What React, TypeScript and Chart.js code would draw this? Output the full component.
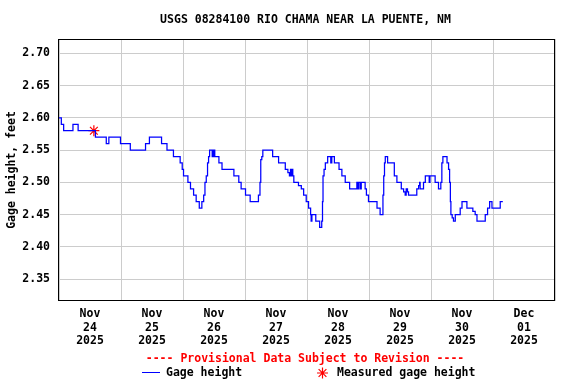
import React, { useEffect, useRef } from 'react';
import { Chart, registerables } from 'chart.js';

Chart.register(...registerables);

const TITLE = 'USGS 08284100 RIO CHAMA NEAR LA PUENTE, NM';
const NOTE = '---- Provisional Data Subject to Revision ----';
const Y_TITLE = 'Gage height, feet';
const LEGEND_LINE = 'Gage height';
const LEGEND_STAR = 'Measured gage height';

// x labels, one per day (placed at noon)
const DAY_LABELS = [
  ['Nov', '24', '2025'],
  ['Nov', '25', '2025'],
  ['Nov', '26', '2025'],
  ['Nov', '27', '2025'],
  ['Nov', '28', '2025'],
  ['Nov', '29', '2025'],
  ['Nov', '30', '2025'],
  ['Dec', '01', '2025'],
];
const Y_TICKS = [2.35, 2.4, 2.45, 2.5, 2.55, 2.6, 2.65, 2.7];
const Y_MIN = 2.316;
const Y_MAX = 2.7222;
const X_MAX_HOURS = 192;

// gage height change points: hours since 2025-11-24 00:00, value in feet
const HOURS = [
  0, 0.9, 1.8, 5.4, 7.4, 14.1, 18.3, 19.3, 23.8, 27.6, 33.5, 35.0, 39.7, 41.8, 44.3, 46.9,
  47.7, 48.2, 49.9, 50.9, 52.1, 53.1, 54.3, 55.3, 56.0, 56.5, 57.0, 57.5, 57.9, 58.3, 59.3,
  59.6, 59.8, 60.1, 60.3, 61.9, 63.1, 67.7, 69.6, 70.5, 72.2, 74.0, 77.2, 77.8, 78.1, 78.5,
  78.9, 82.7, 85.0, 87.6, 88.6, 89.2, 89.6, 89.9, 90.3, 90.5, 90.9, 92.7, 93.8, 94.7, 95.7,
  96.6, 97.4, 97.6, 97.9, 99.4, 100.9, 101.7, 102.0, 102.2, 102.6, 103.1, 104.0, 105.2,
  105.6, 106.6, 108.4, 109.5, 110.8, 112.5, 115.3, 115.7, 116.0, 116.6, 117.0, 118.5, 119.0,
  119.8, 123.1, 124.3, 125.4, 125.7, 126.0, 126.3, 127.2, 129.8, 130.8, 131.5, 132.5, 133.4,
  134.0, 134.4, 134.9, 135.3, 138.5, 139.2, 139.6, 139.8, 141.1, 141.8, 143.3, 143.6, 145.6,
  146.9, 147.8, 148.2, 148.6, 150.2, 150.8, 151.2, 151.5, 151.7, 152.2, 152.7, 153.4, 155.3,
  156.0, 157.9, 160.2, 161.1, 161.8, 165.0, 165.9, 166.7, 167.6, 170.8, 171.8,
];
const GAGE = [
  2.60, 2.59, 2.58, 2.59, 2.58, 2.57, 2.56, 2.57, 2.56, 2.55, 2.56, 2.57, 2.56, 2.55, 2.54, 2.53,
  2.52, 2.51, 2.50, 2.49, 2.48, 2.47, 2.46, 2.47, 2.48, 2.50, 2.51, 2.53, 2.54, 2.55, 2.54,
  2.55, 2.54, 2.55, 2.54, 2.53, 2.52, 2.51, 2.50, 2.49, 2.48, 2.47, 2.48, 2.50, 2.535, 2.54,
  2.55, 2.54, 2.53, 2.52, 2.515, 2.51, 2.52, 2.51, 2.52, 2.51, 2.50, 2.495, 2.49, 2.48, 2.47,
  2.46, 2.45, 2.44, 2.45, 2.44, 2.43, 2.44, 2.47, 2.51, 2.52, 2.53, 2.54, 2.53,
  2.54, 2.53, 2.52, 2.51, 2.50, 2.49, 2.50, 2.49, 2.50, 2.49, 2.50, 2.49, 2.48,
  2.47, 2.46, 2.45, 2.48, 2.51, 2.53, 2.54, 2.53, 2.51, 2.50, 2.50, 2.49, 2.485,
  2.48, 2.49, 2.485, 2.48, 2.49, 2.495, 2.50, 2.49, 2.50, 2.51, 2.50, 2.51, 2.50,
  2.49, 2.50, 2.53, 2.54, 2.53, 2.52, 2.50, 2.47, 2.45, 2.445, 2.44, 2.45, 2.46,
  2.47, 2.46, 2.455, 2.45, 2.44, 2.45, 2.46, 2.47, 2.46, 2.47, 2.47,
];
const MEASURED_HOURS = [13.5];
const MEASURED = [2.58];

const FONT_FAMILY = "'DejaVu Sans Mono', 'Liberation Mono', monospace";
const FONT = { family: FONT_FAMILY, size: 11.5, weight: 'bold' as const, lineHeight: 1.17 };

const overlayPlugin = {
  id: 'usgsOverlay',
  afterDatasetsDraw(chart: any) {
    const { ctx, chartArea } = chart;
    ctx.save();
    ctx.strokeStyle = '#000000';
    ctx.lineWidth = 1;
    ctx.strokeRect(
      chartArea.left - 0.5,
      chartArea.top + 0.5,
      chartArea.right - chartArea.left,
      chartArea.bottom - chartArea.top - 1
    );
    ctx.restore();
  },
  afterDraw(chart: any) {
    const { ctx } = chart;
    ctx.save();
    ctx.font = `bold 11.5px ${FONT_FAMILY}`;
    ctx.textBaseline = 'middle';
    ctx.textAlign = 'center';
    ctx.fillStyle = '#000000';
    ctx.fillText(TITLE, 305.5, 20);
    ctx.fillStyle = '#ff0000';
    ctx.fillText(NOTE, 305, 359);
    // legend
    ctx.textAlign = 'left';
    ctx.strokeStyle = '#0000ff';
    ctx.lineWidth = 1;
    ctx.beginPath();
    ctx.moveTo(142, 372.5);
    ctx.lineTo(160, 372.5);
    ctx.stroke();
    ctx.fillStyle = '#000000';
    ctx.fillText(LEGEND_LINE, 166, 373);
    const cx = 322.5;
    const cy = 373;
    const r = 5.5;
    ctx.strokeStyle = '#ff0000';
    ctx.lineWidth = 1.2;
    ctx.beginPath();
    ctx.moveTo(cx - r, cy);
    ctx.lineTo(cx + r, cy);
    ctx.moveTo(cx, cy - r);
    ctx.lineTo(cx, cy + r);
    const d = r * Math.SQRT1_2;
    ctx.moveTo(cx - d, cy - d);
    ctx.lineTo(cx + d, cy + d);
    ctx.moveTo(cx - d, cy + d);
    ctx.lineTo(cx + d, cy - d);
    ctx.stroke();
    ctx.fillText(LEGEND_STAR, 337, 373);
    ctx.restore();
  },
};

export default function App() {
  const canvasRef = useRef<HTMLCanvasElement | null>(null);

  useEffect(() => {
    document.body.style.margin = '0';
    const canvas = canvasRef.current;
    if (!canvas) return;
    const chart = new Chart(canvas, {
      type: 'line',
      data: {
        datasets: [
          {
            label: LEGEND_LINE,
            data: HOURS.map((h, i) => ({ x: h, y: GAGE[i] })),
            borderColor: '#0000ff',
            borderWidth: 1.25,
            pointRadius: 0,
            stepped: 'before',
            fill: false,
          },
          {
            label: LEGEND_STAR,
            data: MEASURED_HOURS.map((h, i) => ({ x: h, y: MEASURED[i] })),
            showLine: false,
            pointStyle: 'star',
            pointRadius: 5.5,
            pointBorderColor: '#ff0000',
            pointBackgroundColor: '#ff0000',
            pointBorderWidth: 1.2,
            borderColor: '#ff0000',
          },
        ],
      },
      options: {
        animation: false,
        responsive: false,
        devicePixelRatio: 1,
        events: [],
        layout: { padding: { left: 0, right: 21, top: 39, bottom: 0 } },
        plugins: {
          legend: { display: false },
          tooltip: { enabled: false },
          title: { display: false },
        },
        scales: {
          x: {
            type: 'linear',
            min: 0,
            max: X_MAX_HOURS,
            afterBuildTicks: (scale: any) => {
              const ticks = [];
              for (let v = 0; v <= X_MAX_HOURS; v += 12) ticks.push({ value: v });
              scale.ticks = ticks;
            },
            afterFit: (scale: any) => {
              scale.height = 83;
            },
            grid: {
              color: (ctx: any) =>
                ctx.tick && ctx.tick.value % 24 === 0 ? '#cccccc' : 'rgba(0,0,0,0)',
              drawTicks: false,
              lineWidth: 1,
            },
            border: { display: false },
            ticks: {
              autoSkip: false,
              maxRotation: 0,
              minRotation: 0,
              padding: 6.5,
              color: '#000000',
              font: FONT,
              callback: (value: any) => {
                const v = Number(value);
                if (v % 24 === 12) return DAY_LABELS[(v - 12) / 24];
                return '';
              },
            },
          },
          y: {
            type: 'linear',
            min: Y_MIN,
            max: Y_MAX,
            afterBuildTicks: (scale: any) => {
              scale.ticks = Y_TICKS.map((v) => ({ value: v }));
            },
            afterFit: (scale: any) => {
              scale.width = 59;
            },
            grid: { color: '#cccccc', drawTicks: false, lineWidth: 1 },
            border: { display: false },
            ticks: {
              padding: 9,
              color: '#000000',
              font: FONT,
              callback: (value: any) => Number(value).toFixed(2),
            },
            title: {
              display: true,
              text: Y_TITLE,
              color: '#000000',
              font: { family: FONT_FAMILY, size: 11.5, weight: 'bold' as const, lineHeight: 1.2 },
              padding: { top: 5, bottom: 0 },
            },
          },
        },
      },
      plugins: [overlayPlugin],
    });
    return () => {
      chart.destroy();
    };
  }, []);

  return (
    <div style={{ position: 'absolute', left: 0, top: 0, width: 576, height: 384, background: '#ffffff' }}>
      <canvas ref={canvasRef} width={576} height={384} style={{ display: 'block', width: 576, height: 384 }} />
    </div>
  );
}
